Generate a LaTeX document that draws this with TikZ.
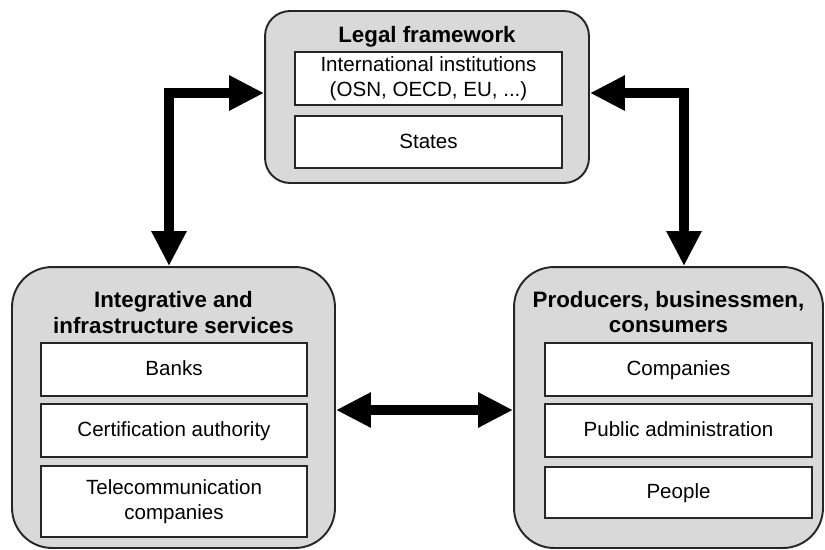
\documentclass[tikz,border=0pt]{standalone}
\usepackage{fontspec}
\setmainfont{Liberation Sans}
\usetikzlibrary{arrows.meta}
\definecolor{fond}{HTML}{D9D9D9}
\definecolor{trait}{HTML}{262626}
\tikzset{
  bloc/.style={draw=trait, line width=1.1pt, fill=fond, rounded corners=0.5cm},
  case/.style={draw=trait, line width=1.1pt, fill=white, minimum width=5.34cm,
    align=center, inner sep=0pt, font=\fontsize{11.7}{14}\selectfont},
  ligne/.style={text height=0.72em, text depth=0pt},
  titre/.style={align=center, font=\bfseries\fontsize{12.7}{14.5}\selectfont},
  lien/.style={line width=0.2cm,
    {Triangle[length=0.7cm,width=0.66cm]}-{Triangle[length=0.7cm,width=0.66cm]}}
}
\begin{document}
\begin{tikzpicture}[x=0.02cm,y=-0.02cm]
  \useasboundingbox (0,0) rectangle (825,549);
  % Cadres
  \node[bloc, minimum width=6.48cm, minimum height=3.44cm] (legal) at (427,97) {};
  \node[bloc, rounded corners=0.8cm, minimum width=6.46cm, minimum height=5.62cm] (integ) at (173.5,407.5) {};
  \node[bloc, rounded corners=0.8cm, minimum width=6.18cm, minimum height=5.62cm] (prod) at (668.5,407.5) {};
  % Titres
  \node[titre] (tlegal) at (427,37) {Legal framework};
  \node[titre] (tinteg) at (173.5,312.5) {Integrative and\\infrastructure services};
  \node[titre] (tprod) at (668.5,312) {Producers, businessmen,\\consumers};
  % Cases
  \node[case, minimum height=1.06cm] (inst) at (428.5,78.5) {International institutions\\(OSN, OECD, EU, ...)};
  \node[case, ligne, minimum height=1.04cm] (states) at (428.5,142) {States};
  \node[case, ligne, minimum width=5.32cm, minimum height=1.06cm] (banks) at (174,369.5) {Banks};
  \node[case, ligne, minimum width=5.32cm, minimum height=1.06cm] (cert) at (174,430.5) {Certification authority};
  \node[case, minimum width=5.32cm, minimum height=1.42cm] (tele) at (174,501.5) {Telecommunication\\companies};
  \node[case, ligne, minimum height=1.06cm] (comp) at (678.5,369.5) {Companies};
  \node[case, ligne, minimum height=1.06cm] (admin) at (678.5,430.5) {Public administration};
  \node[case, ligne, minimum height=1.02cm] (people) at (678.5,492.5) {People};
  % Fl\`eches
  \draw[lien] ([yshift=0.08cm]legal.west) -| ([xshift=-0.09cm]integ.north);
  \draw[lien] ([yshift=0.08cm]legal.east) -| ([xshift=0.31cm]prod.north);
  \draw[lien] ([yshift=-0.05cm]integ.east) -- ([yshift=-0.05cm]prod.west);
\end{tikzpicture}
\end{document}
